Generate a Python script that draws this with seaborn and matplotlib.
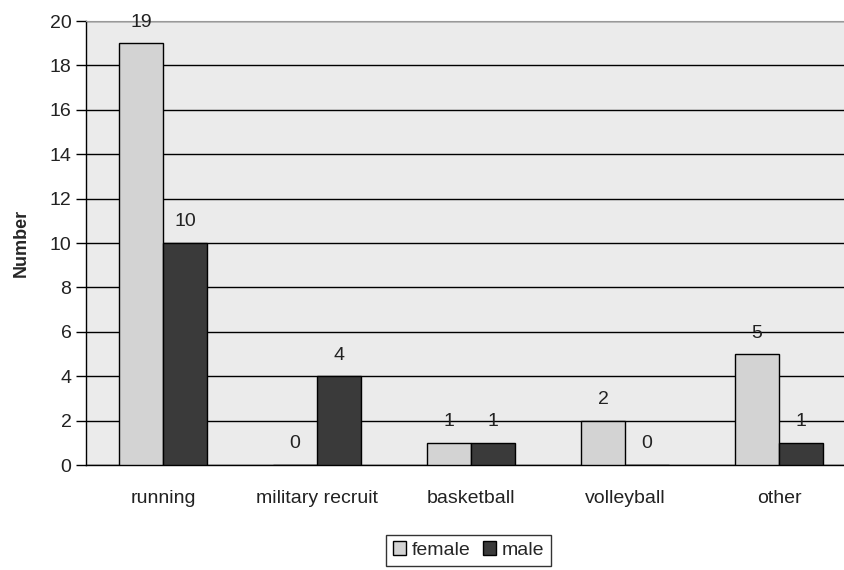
import seaborn as sns
import matplotlib.pyplot as plt
import pandas as pd

sports = ['running', 'military recruit', 'basketball', 'volleyball', 'other']
female = [19, 0, 1, 2, 5]
male = [10, 4, 1, 0, 1]

df = pd.DataFrame({
    'sport': sports * 2,
    'sex': ['female'] * len(sports) + ['male'] * len(sports),
    'Number': female + male,
})

sns.set_style('white')
plt.rcParams['font.family'] = ['Liberation Sans', 'DejaVu Sans']

fig = plt.figure(figsize=(8.45, 5.7), dpi=100)
ax = fig.add_axes([86 / 845, 105 / 570, 770 / 845, 444 / 570])
ax.set_facecolor('#EBEBEB')

sns.barplot(data=df, x='sport', y='Number', hue='sex', order=sports,
            palette={'female': '#D3D3D3', 'male': '#3A3A3A'},
            width=0.57, edgecolor='black', linewidth=1, ax=ax, zorder=3)

for c in ax.containers:
    ax.bar_label(c, padding=9, fontsize=14, color='#222222')

ax.set_ylim(0, 20)
ax.set_xlim(-0.5, 4.5)
ax.set_yticks(range(0, 21, 2))
ax.yaxis.grid(True, color='black', linewidth=1, zorder=0)
ax.set_axisbelow(True)

ax.set_xticks([i - 0.5 for i in range(6)], minor=True)
ax.tick_params(axis='x', which='major', length=0, pad=18, labelsize=14, labelcolor='#222222')
ax.tick_params(axis='x', which='minor', length=7, width=1, color='black', direction='out')
ax.tick_params(axis='y', length=7, width=1, color='black', direction='out', labelsize=14,
               left=True, labelcolor='#222222')

ax.set_xlabel('')
ax.set_ylabel('Number', fontsize=13, fontweight='bold', labelpad=14)

for s in ['left', 'bottom']:
    ax.spines[s].set_color('black')
    ax.spines[s].set_linewidth(1)
ax.spines['top'].set_color('#999999')
ax.spines['right'].set_visible(False)

handles, labels = ax.get_legend_handles_labels()
ax.legend(handles, labels, loc='upper center', bbox_to_anchor=(0.497, -0.135), ncol=2,
          frameon=True, fancybox=False, edgecolor='black', fontsize=14,
          handlelength=0.7, handleheight=0.7, handletextpad=0.3, columnspacing=0.6,
          borderpad=0.35)

fig.savefig('out.png', dpi=100, facecolor='white')
